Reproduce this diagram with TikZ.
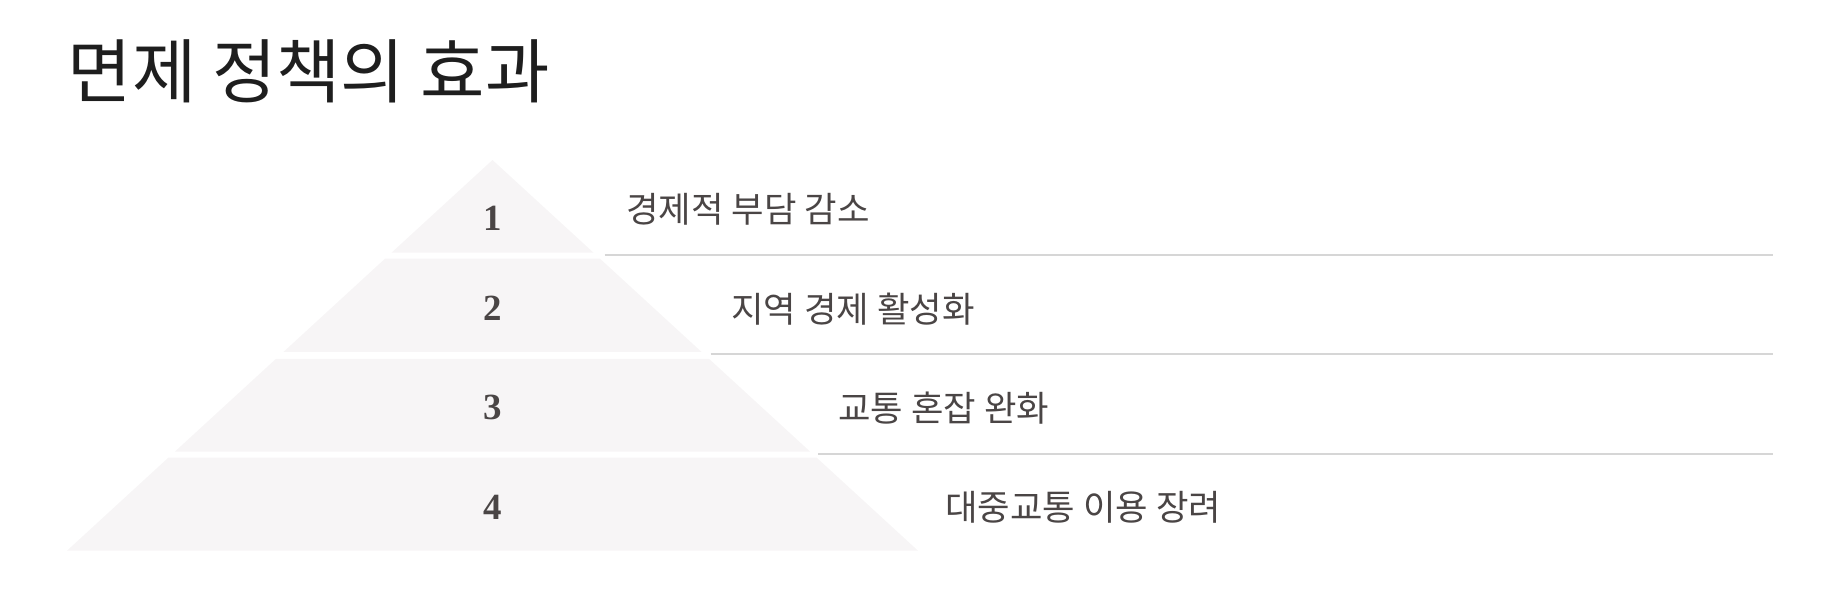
\documentclass[tikz,border=0pt]{standalone}
\usepackage{fontspec}
\newfontfamily\kofont{Noto Sans CJK KR}
\newfontfamily\numfont{Liberation Serif}
\definecolor{tierfill}{HTML}{F7F5F6}
\definecolor{rulegray}{HTML}{D6D6D6}
\definecolor{labelgray}{HTML}{4A4545}
\definecolor{titlegray}{HTML}{1E1E1E}
\begin{document}
\begin{tikzpicture}[x=0.1mm, y=0.1mm]
\tikzstyle{every node}+=[inner sep=0pt]
\tikzstyle{tier}=[fill=tierfill]
\tikzstyle{tiernum}=[text=labelgray, font=\numfont\bfseries\fontsize{10.5}{12}\selectfont]
\tikzstyle{tierlabel}=[text=labelgray, anchor=west, font=\kofont\fontsize{10.05}{12}\selectfont]
\tikzstyle{sep}=[draw=rulegray, line width=0.57pt]
\useasboundingbox (0,0) rectangle (1845,-607);
\draw (67,-71) node [anchor=west, text=titlegray, font=\kofont\fontsize{19.9}{24}\selectfont] (title) {면제 정책의 효과};
\fill [tier] (492.5,-160) -- (593.5,-252.7) -- (391.5,-252.7) -- cycle;
\fill [tier] (385,-258.7) -- (600,-258.7) -- (701.6,-352) -- (283.4,-352) -- cycle;
\fill [tier] (275.8,-359) -- (709.2,-359) -- (810.2,-451.7) -- (174.8,-451.7) -- cycle;
\fill [tier] (168.3,-457.7) -- (816.7,-457.7) -- (918,-550.7) -- (67,-550.7) -- cycle;
\draw (492.5,-218.8) node [tiernum] (n1) {1};
\draw (492.5,-308.3) node [tiernum] (n2) {2};
\draw (492.5,-407.1) node [tiernum] (n3) {3};
\draw (492.5,-507) node [tiernum] (n4) {4};
\draw (625.5,-209) node [tierlabel] (l1) {경제적 부담 감소};
\draw (730.5,-309) node [tierlabel] (l2) {지역 경제 활성화};
\draw (837.5,-408) node [tierlabel] (l3) {교통 혼잡 완화};
\draw (944.5,-507.7) node [tierlabel] (l4) {대중교통 이용 장려};
\coordinate (s1a) at (604.5,-255.3);
\coordinate (s1b) at (1773,-255.3);
\coordinate (s2a) at (710.5,-354);
\coordinate (s2b) at (1773,-354);
\coordinate (s3a) at (818,-454.3);
\coordinate (s3b) at (1773,-454.3);
\draw [sep] (s1a) -- (s1b);
\draw [sep] (s2a) -- (s2b);
\draw [sep] (s3a) -- (s3b);
\end{tikzpicture}
\end{document}
